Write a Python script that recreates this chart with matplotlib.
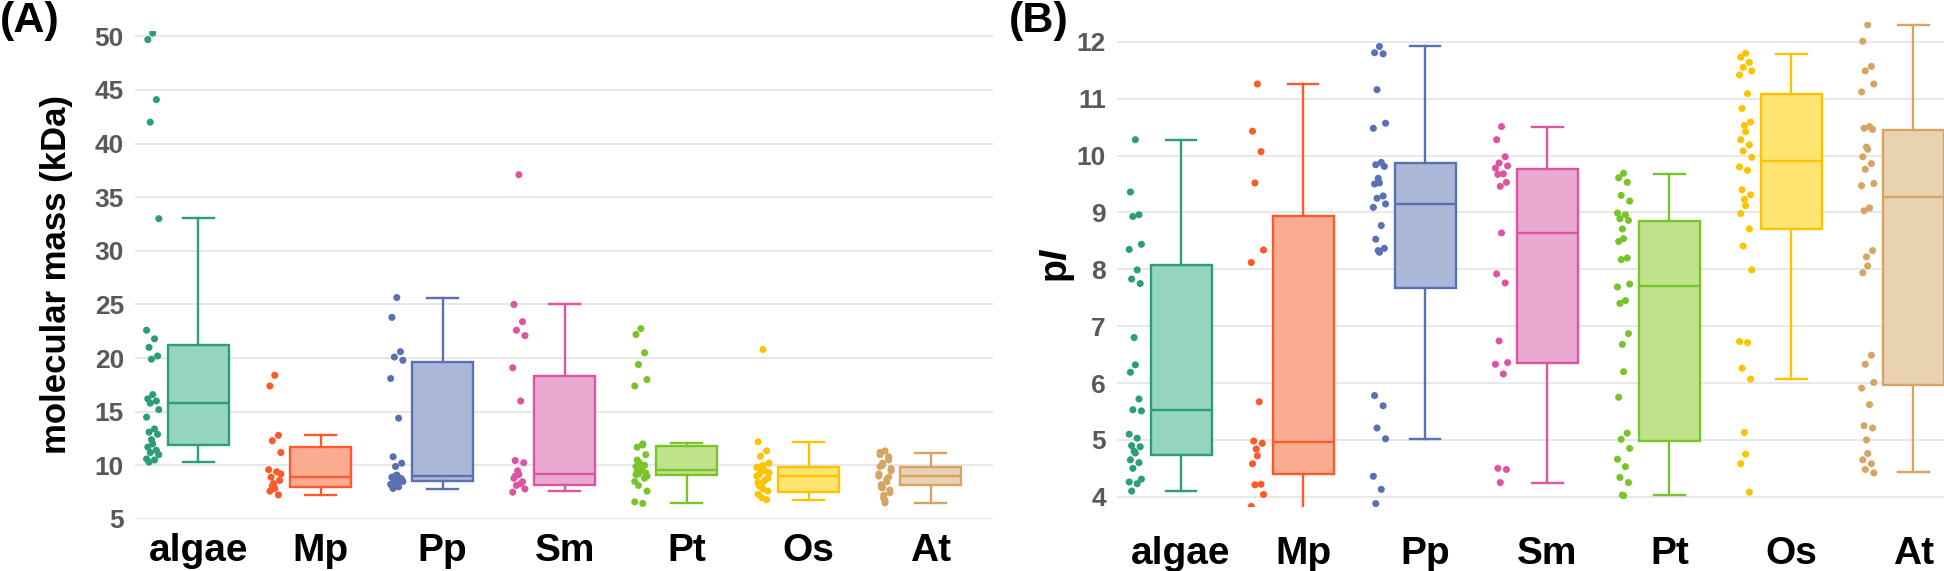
import numpy as np
import matplotlib
matplotlib.use("Agg")
import matplotlib.pyplot as plt

plt.rcParams['font.family'] = ['Liberation Sans', 'DejaVu Sans']
plt.rcParams['mathtext.fontset'] = 'custom'
plt.rcParams['mathtext.bf'] = 'Liberation Sans:bold'
plt.rcParams['mathtext.bfit'] = 'Liberation Sans:bold:italic'

# categories and colours
groups = ["algae", "Mp", "Pp", "Sm", "Pt", "Os", "At"]
edge_colors = ["#2b9e76", "#fc5a2a", "#5a70b3", "#dd54a2", "#78c42a", "#fcc400", "#d6a563"]
fill_colors = ["#95d4be", "#fbab8f", "#aab7d9", "#eaa9d0", "#bfe28b", "#fde36f", "#e8d2b1"]

# (A) molecular mass (kDa) - individual proteins
mass_pts = [
    [50.3, 49.7, 44.1, 42.0, 33.0, 22.6, 21.8, 21.0, 20.2, 19.9, 16.6, 16.2, 16.0, 15.8,
     15.2, 14.5, 13.4, 13.1, 12.9, 12.4, 12.0, 11.7, 11.4, 11.2, 11.0, 10.6, 10.5, 10.3],
    [18.4, 17.4, 12.8, 12.3, 11.2, 9.6, 9.4, 8.9, 8.6, 8.3, 7.85, 7.6, 7.25, 8.1, 9.2],
    [25.65, 23.8, 20.6, 20.1, 19.8, 18.1, 14.4, 10.8, 10.2, 9.9, 9.1, 8.9, 8.8, 8.6, 8.5,
     8.25, 8.0, 7.85, 8.7, 9.0, 8.4, 8.1],
    [37.1, 25.0, 23.4, 22.6, 22.1, 19.1, 16.0, 10.45, 10.25, 9.5, 9.15, 8.8, 8.47, 8.13,
     7.8, 7.5, 8.3, 9.0],
    [22.75, 22.2, 20.5, 19.4, 18.0, 17.4, 12.0, 11.7, 11.0, 10.2, 9.65, 9.15, 8.8, 8.13,
     7.6, 6.6, 6.45, 9.4, 9.3, 9.5, 9.7, 9.9, 10.0, 9.2, 9.0, 8.5, 11.9, 10.5],
    [20.8, 12.2, 11.35, 10.85, 10.2, 9.83, 9.5, 9.15, 8.8, 8.3, 7.8, 7.3, 6.8, 9.7, 9.3,
     9.0, 8.6, 8.1, 7.6, 7.0, 10.0, 8.4],
    [11.35, 11.0, 10.5, 10.0, 9.5, 9.0, 8.47, 7.96, 7.45, 6.94, 6.5, 11.2, 10.8, 10.2,
     9.7, 9.2, 8.7, 8.2, 7.7, 7.2, 6.7, 9.9, 8.9, 7.9],
]
mass_q1 = [11.9, 7.95, 8.5, 8.15, 9.1, 7.5, 8.13]
mass_med = [15.85, 8.95, 9.0, 9.15, 9.6, 8.98, 9.0]
mass_q3 = [21.2, 11.75, 19.65, 18.3, 11.8, 9.83, 9.83]
mass_lo = [10.3, 7.25, 7.8, 7.6, 6.5, 6.77, 6.53]
mass_hi = [33.07, 12.8, 25.65, 25.0, 12.05, 12.2, 11.2]

# (B) pI - individual proteins
pi_pts = [
    [10.28, 9.36, 8.96, 8.93, 8.44, 8.35, 7.99, 7.83, 7.75, 6.8, 6.32, 6.19, 5.72, 5.53,
     5.51, 5.1, 5.03, 4.9, 4.88, 4.8, 4.77, 4.65, 4.6, 4.5, 4.31, 4.26, 4.23, 4.1],
    [11.26, 10.43, 10.07, 9.52, 8.34, 8.12, 5.67, 4.98, 4.94, 4.84, 4.72, 4.58, 4.22,
     4.21, 4.04, 3.83],
    [11.92, 11.81, 11.79, 11.16, 10.57, 10.48, 9.88, 9.84, 9.81, 9.6, 9.52, 9.5, 9.29,
     9.25, 9.15, 9.09, 8.77, 8.53, 8.37, 8.33, 8.3, 5.78, 5.6, 5.21, 5.02, 4.36, 4.13, 3.88],
    [10.51, 10.28, 9.98, 9.87, 9.82, 9.78, 9.68, 9.67, 9.53, 9.46, 8.64, 7.92, 7.76, 6.74,
     6.36, 6.33, 6.16, 4.5, 4.48, 4.25],
    [9.69, 9.61, 9.53, 9.3, 9.2, 8.99, 8.96, 8.89, 8.86, 8.71, 8.54, 8.49, 8.2, 8.17, 7.74,
     7.69, 7.45, 7.4, 6.87, 6.68, 6.2, 5.75, 5.12, 5.01, 4.85, 4.66, 4.53, 4.34, 4.25,
     4.03, 4.02],
    [11.8, 11.73, 11.64, 11.55, 11.49, 11.42, 11.09, 10.83, 10.59, 10.53, 10.42, 10.28,
     10.19, 10.08, 9.97, 9.8, 9.74, 9.4, 9.31, 9.23, 9.12, 8.98, 8.71, 8.41, 7.99, 6.73,
     6.71, 6.26, 6.07, 5.13, 4.75, 4.58, 4.08],
    [12.3, 12.01, 11.57, 11.49, 11.26, 11.12, 10.51, 10.48, 10.46, 10.15, 10.11, 9.98,
     9.86, 9.76, 9.51, 9.47, 9.08, 9.03, 8.33, 8.22, 8.06, 7.94, 6.49, 6.33, 6.01, 5.91,
     5.62, 5.25, 5.21, 5.0, 4.76, 4.65, 4.58, 4.48, 4.42],
]
pi_q1 = [4.74, 4.4, 7.67, 6.35, 4.98, 8.71, 5.96]
pi_med = [5.52, 4.97, 9.15, 8.64, 7.71, 9.9, 9.28]
pi_q3 = [8.08, 8.93, 9.87, 9.76, 8.85, 11.09, 10.45]
pi_lo = [4.1, 3.7, 5.02, 4.25, 4.03, 6.07, 4.43]
pi_hi = [10.28, 11.26, 11.92, 10.51, 9.68, 11.79, 12.3]

jitter = [0.0, -0.04, 0.03, -0.02, 0.05, -0.05, 0.015, -0.03, 0.04, -0.01]


def draw_panel(ax, pts, q1, med, q3, lo, hi):
    pos = np.arange(len(groups))
    for i, g in enumerate(groups):
        st = [dict(med=med[i], q1=q1[i], q3=q3[i], whislo=lo[i], whishi=hi[i], fliers=[])]
        b = ax.bxp(st, positions=[pos[i]], widths=0.5, capwidths=0.25,
                   patch_artist=True, showfliers=False, manage_ticks=False)
        b['boxes'][0].set(facecolor=fill_colors[i], edgecolor=edge_colors[i], linewidth=1.7)
        for k in ('medians', 'whiskers', 'caps'):
            for ln in b[k]:
                ln.set(color=edge_colors[i], linewidth=1.7)
        y = np.array(pts[i])
        xs = pos[i] - 0.375 + np.array([jitter[j % len(jitter)] for j in range(len(y))])
        ax.scatter(xs, y, s=26, color=edge_colors[i], edgecolors='none', zorder=3)
    ax.set_xticks(pos)
    ax.set_xticklabels(groups, fontsize=28, fontweight='bold', color='black')
    ax.set_axisbelow(True)
    ax.grid(axis='y', color='#e6e6e6', linewidth=1.3)
    for s in ax.spines.values():
        s.set_visible(False)
    ax.tick_params(axis='both', length=0)
    ax.tick_params(axis='y', labelsize=19, labelcolor='#595959', pad=8)


fig = plt.figure(figsize=(19.44, 5.71), dpi=100)

axA = fig.add_axes([135 / 1944, 52 / 571, (993 - 135) / 1944, (571 - 52 - 31) / 571])
draw_panel(axA, mass_pts, mass_q1, mass_med, mass_q3, mass_lo, mass_hi)
axA.set_ylim(5, 50.5)
axA.set_yticks(range(5, 51, 5))
for t in axA.get_yticklabels():
    t.set_fontweight('bold')
axA.set_xlim(-0.52, 6.51)
axA.tick_params(axis='x', pad=10)

axB = fig.add_axes([1117 / 1944, 64 / 571, (1944 - 1117) / 1944, (571 - 64 - 22) / 571])
draw_panel(axB, pi_pts, pi_q1, pi_med, pi_q3, pi_lo, pi_hi)
axB.set_ylim(3.82, 12.35)
axB.set_yticks(range(4, 13))
for t in axB.get_yticklabels():
    t.set_fontweight('bold')
axB.set_xlim(-0.525, 6.25)
axB.tick_params(axis='x', pad=21)

fig.text(57 / 1944, 0.5 + 0.02, "molecular mass (kDa)", rotation=90, fontsize=25,
         fontweight='bold', ha='center', va='center')
fig.text(1057 / 1944, 1 - 265 / 571, r"$\mathbf{p}\mathbfit{I}$", rotation=90, fontsize=27,
         ha='center', va='center')
fig.text(0.0, 0.998, "(A)", fontsize=31, fontweight='bold', ha='left', va='top')
fig.text(1009 / 1944, 0.998, "(B)", fontsize=31, fontweight='bold', ha='left', va='top')

fig.savefig("out.png", dpi=100)
